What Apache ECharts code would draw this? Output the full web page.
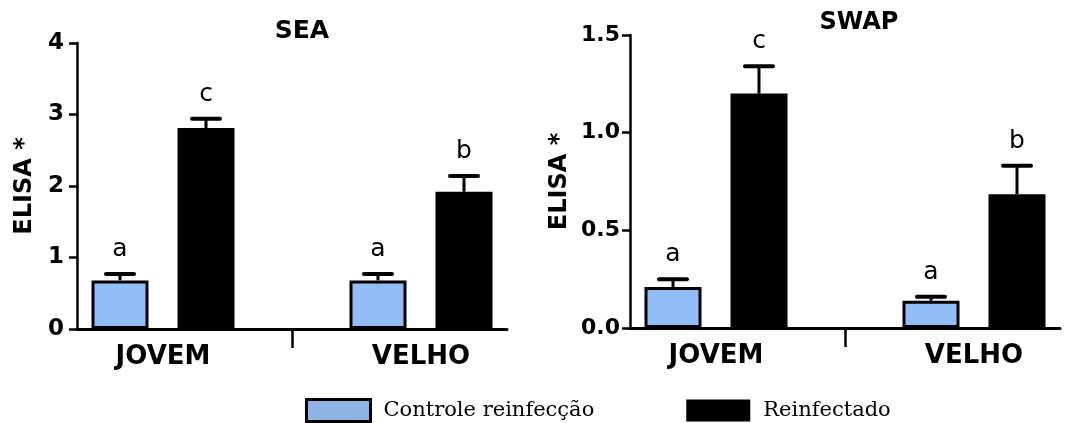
<!DOCTYPE html>
<html>
<head>
<meta charset="utf-8">
<script src="https://cdn.jsdelivr.net/npm/echarts@6/dist/echarts.min.js"></script>
<style>
html,body{margin:0;padding:0;background:#fff;}
#chart{width:1067px;height:423px;}
</style>
</head>
<body>
<div id="chart"></div>
<script>
// ---- data ----
const categories = ['JOVEM', 'VELHO'];
const seriesNames = ['Controle reinfecção', 'Reinfectado'];
const panelTitles = ['SEA', 'SWAP'];
const yAxisName = 'ELISA *';

const seaCtrl = [0.68, 0.68];
const seaCtrlSem = [0.09, 0.09];
const seaReinf = [2.81, 1.92];
const seaReinfSem = [0.13, 0.22];
const seaCtrlLetters = ['a', 'a'];
const seaReinfLetters = ['c', 'b'];
const seaTicks = ['0', '1', '2', '3', '4'];

const swapCtrl = [0.21, 0.14];
const swapCtrlSem = [0.04, 0.02];
const swapReinf = [1.20, 0.685];
const swapReinfSem = [0.14, 0.145];
const swapCtrlLetters = ['a', 'a'];
const swapReinfLetters = ['c', 'b'];
const swapTicks = ['0.0', '0.5', '1.0', '1.5'];

// ---- styles ----
const BLUE = '#92BEF7';
const LEGEND_BLUE = '#8DB4E2';
const FONT = 'DejaVu Sans';

// slots: two bars per group with an empty slot between groups
const slots = [];
categories.forEach((c, i) => {
  slots.push(c + '|0', c + '|1');
  if (i < categories.length - 1) slots.push('|gap' + i);
});
function slotIndex(groupIdx, k) { return groupIdx * 3 + k; }
function toSlots(values, k) {
  const arr = slots.map(() => '-');
  values.forEach((v, i) => { arr[slotIndex(i, k)] = v; });
  return arr;
}
function errData(values, sems, k) {
  return values.map((v, i) => [slotIndex(i, k), v, sems[i]]);
}
function makeErrRender(letters) {
  return function (params, api) {
    const x = api.value(0), m = api.value(1), e = api.value(2);
    const p0 = api.coord([x, m]);
    const p1 = api.coord([x, m + e]);
    return {
      type: 'group',
      children: [
        {type: 'line', shape: {x1: p0[0], y1: p0[1], x2: p1[0], y2: p1[1]},
         style: {stroke: '#000', lineWidth: 3}},
        {type: 'line', shape: {x1: p1[0] - 14, y1: p1[1], x2: p1[0] + 14, y2: p1[1]},
         style: {stroke: '#000', lineWidth: 4, lineCap: 'round'}},
        {type: 'text', x: p1[0], y: p1[1] - 12,
         style: {text: letters[params.dataIndex], align: 'center', verticalAlign: 'bottom',
                 fontFamily: FONT, fontSize: 25, fill: '#000'}}
      ]
    };
  };
}

function slotAxis(gridIndex) {
  return {
    type: 'category', gridIndex: gridIndex, data: slots, boundaryGap: true,
    axisLine: {show: true, lineStyle: {color: '#000', width: 3}},
    axisTick: {show: true, alignWithLabel: true, interval: (i) => slots[i].charAt(0) === '|',
               length: 19, lineStyle: {color: '#000', width: 2.5}},
    axisLabel: {show: true, interval: 0, margin: 15,
      formatter: (v) => v.endsWith('|0') ? '{l|' + v.split('|')[0] + '}' : '',
      rich: {l: {fontFamily: FONT, fontWeight: 'bold', fontSize: 26, color: '#000', padding: [0, 0, 0, 86]}}},
    splitLine: {show: false}
  };
}
function valAxis(gridIndex, max, interval, ticks, margin, nameGap, fs) {
  return {
    type: 'value', gridIndex: gridIndex, min: 0, max: max, interval: interval,
    axisLine: {show: true, lineStyle: {color: '#000', width: 2.5}},
    axisTick: {show: true, length: 8, lineStyle: {color: '#000', width: 2.5}},
    axisLabel: {margin: margin, fontFamily: FONT, fontWeight: 'bold', fontSize: fs, color: '#000',
                formatter: (v, i) => ticks[i]},
    splitLine: {show: false},
    name: yAxisName, nameLocation: 'middle', nameGap: nameGap, nameRotate: 90,
    nameTextStyle: {fontFamily: FONT, fontWeight: 'bold', fontSize: 24, color: '#000'}
  };
}
function barSeries(name, values, k, idx, color) {
  return {
    type: 'bar', name: name, xAxisIndex: idx, yAxisIndex: idx,
    data: toSlots(values, k), barWidth: 57, barGap: '-100%',
    itemStyle: {color: color, borderColor: '#000', borderWidth: 3},
    emphasis: {disabled: true}, z: 2
  };
}
function errSeries(values, sems, letters, k, idx) {
  return {
    type: 'custom', name: 'err' + idx + k, xAxisIndex: idx, yAxisIndex: idx,
    data: errData(values, sems, k), renderItem: makeErrRender(letters),
    clip: false, z: 5, silent: true
  };
}

const chart = echarts.init(document.getElementById('chart'), null, {renderer: 'canvas'});
chart.setOption({
  animation: false,
  backgroundColor: '#fff',
  grid: [
    {left: 77, top: 43, width: 430, height: 286, outerBoundsMode: 'none', containLabel: false},
    {left: 630, top: 35, width: 430, height: 293, outerBoundsMode: 'none', containLabel: false}
  ],
  xAxis: [slotAxis(0), slotAxis(1)],
  yAxis: [valAxis(0, 4, 1, seaTicks, 13, 40, 23), valAxis(1, 1.5, 0.5, swapTicks, 10, 58, 22)],
  graphic: [
    {type: 'text', x: 302, y: 19, style: {text: panelTitles[0], align: 'center', verticalAlign: 'top',
      fontFamily: FONT, fontWeight: 'bold', fontSize: 25, fill: '#000'}},
    {type: 'text', x: 859, y: 11, style: {text: panelTitles[1], align: 'center', verticalAlign: 'top',
      fontFamily: FONT, fontWeight: 'bold', fontSize: 24, fill: '#000'}}
  ],
  legend: {
    left: 305, top: 398, padding: 0, itemWidth: 64, itemHeight: 22, itemGap: 92, icon: 'rect',
    selectedMode: false,
    data: [
      {name: seriesNames[0], itemStyle: {color: LEGEND_BLUE, borderColor: '#000', borderWidth: 3}},
      {name: seriesNames[1], itemStyle: {color: '#000', borderWidth: 0}}
    ],
    textStyle: {fontFamily: 'DejaVu Serif', fontSize: 21, color: '#000', padding: [0, 0, 0, 8]}
  },
  series: [
    barSeries(seriesNames[0], seaCtrl, 0, 0, BLUE),
    barSeries(seriesNames[1], seaReinf, 1, 0, '#000'),
    errSeries(seaCtrl, seaCtrlSem, seaCtrlLetters, 0, 0),
    errSeries(seaReinf, seaReinfSem, seaReinfLetters, 1, 0),
    barSeries(seriesNames[0], swapCtrl, 0, 1, BLUE),
    barSeries(seriesNames[1], swapReinf, 1, 1, '#000'),
    errSeries(swapCtrl, swapCtrlSem, swapCtrlLetters, 0, 1),
    errSeries(swapReinf, swapReinfSem, swapReinfLetters, 1, 1)
  ]
});
</script>
</body>
</html>
